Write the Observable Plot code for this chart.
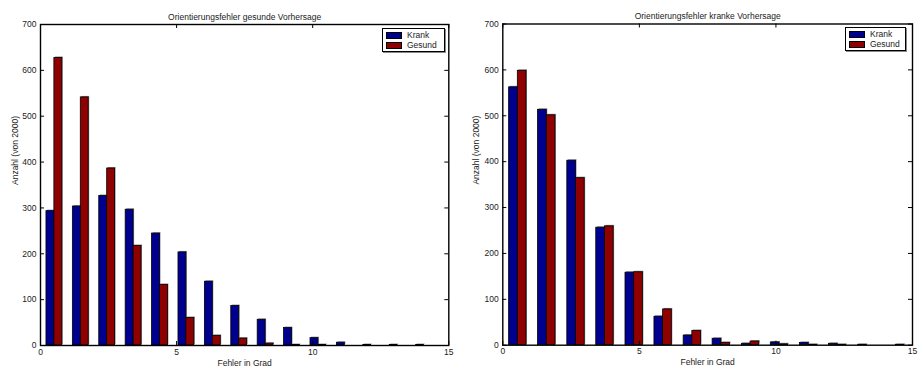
<!DOCTYPE html>
<html>
<head>
<meta charset="utf-8">
<script src="https://cdn.jsdelivr.net/npm/d3@7"></script>
<script src="https://cdn.jsdelivr.net/npm/@observablehq/plot@0.6"></script>
<style>
  html, body { margin: 0; padding: 0; background: #fff; }
  #wrap { position: relative; width: 918px; height: 372px; display: flex; font-family: "Liberation Sans", Arial, sans-serif; }
  #wrap svg { display: block; }
  .legend { position: absolute; background: #fff; border: 1px solid #000; box-shadow: 1px 1px 0 #888; font-size: 8.5px; line-height: 10px; padding: 1px 3px 1px 3px; color: #222; }
  .legend .row { display: flex; align-items: center; height: 10px; }
  .legend .sw { width: 16px; height: 7px; border: 1px solid #000; box-sizing: border-box; margin-right: 5px; }
</style>
</head>
<body>
<div id="wrap"></div>
<script>
// ---- data ----
const seriesNames = ["Krank", "Gesund"];
const seriesColors = ["#00008F", "#8F0000"];
const xTicks = [0, 5, 10, 15];
const yTicks = [0, 100, 200, 300, 400, 500, 600, 700];

const titleLeft = "Orientierungsfehler gesunde Vorhersage";
const leftCenters = [0.51, 1.48, 2.45, 3.42, 4.39, 5.36, 6.33, 7.30, 8.27, 9.24, 10.21, 11.18, 12.15, 13.12, 14.09];
const leftKrank   = [293, 303, 326, 296, 244, 203, 139, 86, 56, 38, 16, 6, 1, 1, 1];
const leftGesund  = [627, 541, 386, 217, 132, 60, 21, 15, 4, 1, 1, 0, 0, 0, 0];

const titleRight = "Orientierungsfehler kranke Vorhersage";
const rightCenters = [0.55, 1.61, 2.68, 3.74, 4.81, 5.87, 6.94, 8.00, 9.07, 10.13, 11.20, 12.26, 13.33, 14.39];
const rightKrank   = [562, 513, 402, 256, 158, 62, 21, 14, 3, 6, 5, 3, 1, 0];
const rightGesund  = [598, 501, 364, 259, 159, 78, 31, 5, 8, 2, 1, 1, 0, 1];

const xLabel = "Fehler in Grad";
const yLabel = "Anzahl (von 2000)";

function chart(title, centers, krank, gesund, m) {
  const width = 459, height = 372;
  const W = width - m.left - m.right;
  const H = height - m.top - m.bottom;
  const bw = centers[1] - centers[0];
  const rows = centers.flatMap((c, i) => [
    {x1: c - 0.3 * bw, x2: c, v: krank[i], s: seriesNames[0]},
    {x1: c, x2: c + 0.3 * bw, v: gesund[i], s: seriesNames[1]}
  ]);
  const fs = 8.5;
  return Plot.plot({
    width, height,
    marginLeft: m.left, marginRight: m.right, marginTop: m.top, marginBottom: m.bottom,
    style: {fontFamily: "'Liberation Sans', Arial, sans-serif", fontSize: "8.5px", color: "#222", background: "#fff"},
    x: {domain: [0, 15]},
    y: {domain: [0, 700]},
    color: {domain: seriesNames, range: seriesColors},
    marks: [
      Plot.rectY(rows, {x1: "x1", x2: "x2", y1: 0, y2: "v", fill: "#8c8c8c", dx: 1, dy: -1}),
      Plot.rectY(rows, {x1: "x1", x2: "x2", y1: 0, y2: "v", fill: "s", stroke: "#000", strokeWidth: 0.8}),
      Plot.frame({stroke: "#000", strokeWidth: 1.4}),
      Plot.tickX(xTicks, {x: d => d, insetTop: H - 4, stroke: "#000"}),
      Plot.tickX(xTicks, {x: d => d, insetBottom: H - 4, stroke: "#000"}),
      Plot.tickY(yTicks, {y: d => d, insetRight: W - 4, stroke: "#000"}),
      Plot.tickY(yTicks, {y: d => d, insetLeft: W - 4, stroke: "#000"}),
      Plot.axisX({ticks: xTicks, tickSize: 0, tickPadding: 3, label: null, fontSize: fs}),
      Plot.axisY({ticks: yTicks, tickSize: 0, tickPadding: 4, label: null, fontSize: fs}),
      Plot.text([title], {text: d => d, frameAnchor: "top", dy: -11, fontSize: fs, fill: "#222"}),
      Plot.text([xLabel], {text: d => d, frameAnchor: "bottom", dy: 20, fontSize: fs, fill: "#222"}),
      Plot.text([yLabel], {text: d => d, frameAnchor: "left", dx: m.yLabelDx, rotate: -90, fontSize: fs, fill: "#222"})
    ]
  });
}

const wrap = document.getElementById("wrap");
wrap.appendChild(chart(titleLeft, leftCenters, leftKrank, leftGesund, {left: 40, right: 10.7, top: 24, bottom: 27, yLabelDx: -25}));
wrap.appendChild(chart(titleRight, rightCenters, rightKrank, rightGesund, {left: 43.3, right: 6, top: 23.5, bottom: 27.3, yLabelDx: -27}));

function legend(left, top, width) {
  const d = document.createElement("div");
  d.className = "legend";
  d.style.left = left + "px";
  d.style.top = top + "px";
  d.style.width = width + "px";
  d.style.boxSizing = "border-box";
  seriesNames.forEach((n, i) => {
    const r = document.createElement("div");
    r.className = "row";
    const sw = document.createElement("div");
    sw.className = "sw";
    sw.style.background = seriesColors[i];
    const t = document.createElement("span");
    t.textContent = n;
    r.appendChild(sw); r.appendChild(t);
    d.appendChild(r);
  });
  wrap.appendChild(d);
}
legend(382, 28, 63);
legend(845, 27, 61);
</script>
</body>
</html>
